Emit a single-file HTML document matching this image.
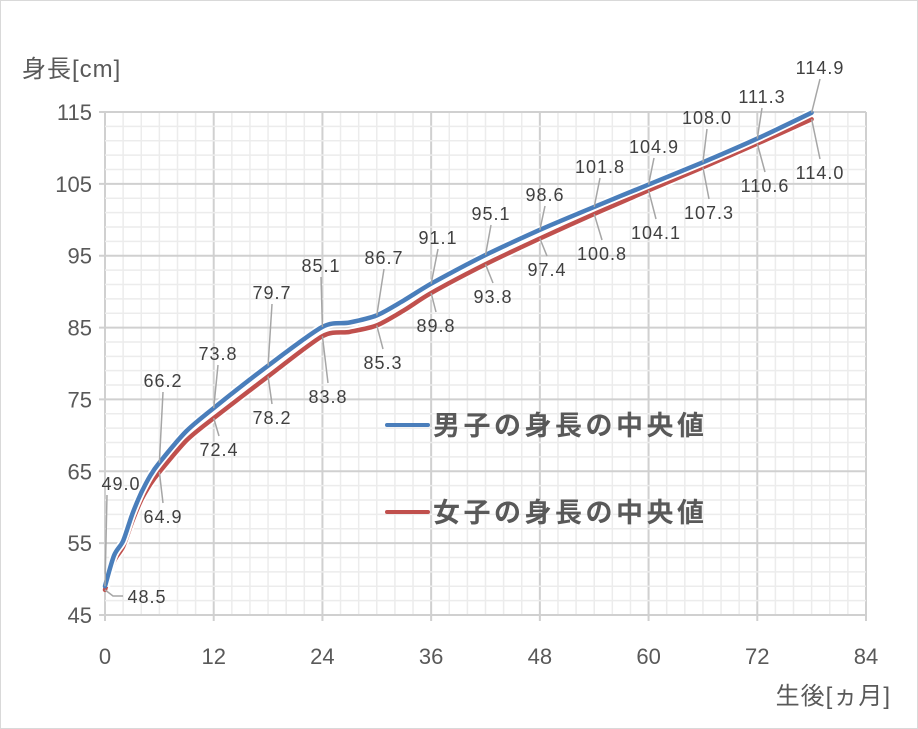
<!DOCTYPE html>
<html><head><meta charset="utf-8"><style>
body{margin:0;background:#fff}
svg{display:block;font-family:"Liberation Sans","Noto Sans CJK JP",sans-serif}
</style></head><body>
<svg id="c" width="918" height="729" viewBox="0 0 918 729" xmlns="http://www.w3.org/2000/svg">
<rect x="0.5" y="0.5" width="917" height="728" fill="#fff" stroke="#d9d9d9"/>
<g id="grid"></g>
<g id="lines"></g>
<g id="labels" font-size="18" fill="#404040" letter-spacing="1"></g>
<g fill="#595959">
<text x="22" y="77" font-size="24" letter-spacing="1">身長[cm]</text>
<text x="891" y="704" font-size="24" letter-spacing="1" text-anchor="end">生後[ヵ月]</text>
</g>
<g id="ticks" font-size="22" fill="#595959"></g>
<g font-size="27" font-weight="bold" fill="#595959" letter-spacing="3.5">
<line x1="387" y1="425" x2="428" y2="425" stroke="#4a7ebb" stroke-width="4" stroke-linecap="round"/>
<text x="433" y="435">男子の身長の中央値</text>
<line x1="387" y1="512" x2="428" y2="512" stroke="#c0504d" stroke-width="4" stroke-linecap="round"/>
<text x="433" y="522">女子の身長の中央値</text>
</g>
</svg>
<script>
const NS="http://www.w3.org/2000/svg";
const X=m=>105+m*(761/84), Y=v=>112+(115-v)*(503/70);
function el(p,t,a,txt){const e=document.createElementNS(NS,t);for(const k in a)e.setAttribute(k,a[k]);if(txt!=null)e.textContent=txt;document.getElementById(p).appendChild(e);return e;}
for(let m=0;m<=84;m+=2){const maj=m%12==0;el('grid','line',{x1:X(m),x2:X(m),y1:112,y2:maj?621:615,stroke:maj?'#d0d0d0':'#ececec','stroke-width':maj?2:1.5});}
for(let i=0;i<=35;i++){const v=45+i*2;const maj=(v-45)%10==0;el('grid','line',{x1:maj?99:105,x2:866,y1:Y(v),y2:Y(v),stroke:maj?'#d0d0d0':'#ececec','stroke-width':maj?2:1.5});}
for(let m=0;m<=84;m+=12)el('ticks','text',{x:X(m),y:664,'text-anchor':'middle'},m);
for(let v=45;v<=115;v+=10)el('ticks','text',{x:92,y:Y(v)+8,'text-anchor':'end'},v);
const boy=[[0,49.0],[1,53.3],[2,55.3],[3,59],[4,62],[5,64.4],[6,66.2],[9,70.6],[12,73.8],[18,79.7],[24,85.1],[27,85.7],[30,86.7],[33,88.8],[36,91.1],[42,95.1],[48,98.6],[54,101.8],[60,104.9],[66,108.0],[72,111.3],[78,114.9]];
const girl=[[0,48.5],[1,52.5],[2,54.5],[3,58],[4,61],[5,63.2],[6,64.9],[9,69.3],[12,72.4],[18,78.2],[24,83.8],[27,84.4],[30,85.3],[33,87.4],[36,89.8],[42,93.8],[48,97.4],[54,100.8],[60,104.1],[66,107.3],[72,110.6],[78,114.0]];
function path(d){const p=d.map(q=>[X(q[0]),Y(q[1])]);let s='M'+p[0][0]+' '+p[0][1];
for(let i=0;i<p.length-1;i++){const p0=p[Math.max(0,i-1)],p1=p[i],p2=p[i+1],p3=p[Math.min(p.length-1,i+2)];const t=0.2;
const c1=[p1[0]+(p2[0]-p0[0])*t/1.5,p1[1]+(p2[1]-p0[1])*t/1.5],c2=[p2[0]-(p3[0]-p1[0])*t/1.5,p2[1]-(p3[1]-p1[1])*t/1.5];
s+=` C${c1[0].toFixed(1)} ${c1[1].toFixed(1)} ${c2[0].toFixed(1)} ${c2[1].toFixed(1)} ${p2[0].toFixed(1)} ${p2[1].toFixed(1)}`;}return s;}
[[girl,'#c0504d'],[boy,'#4a7ebb']].forEach(([d,c])=>{
el('lines','path',{d:path(d),fill:'none',stroke:'#fff','stroke-width':8,'stroke-linejoin':'round'});
el('lines','path',{d:path(d),fill:'none',stroke:c,'stroke-width':4.5,'stroke-linejoin':'round','stroke-linecap':'round'});});
const bl=[[0,49.0,121,490],[6,66.2,163,387],[12,73.8,218,360],[18,79.7,272,299],[24,85.1,321,272],[30,86.7,384,264],[36,91.1,438,244],[42,95.1,491,220],[48,98.6,545,201],[54,101.8,600,173],[60,104.9,654,153],[66,108.0,707,124],[72,111.3,762,103],[78,114.9,820,74]];
const gl=[[0,48.5,147,603],[6,64.9,163,523],[12,72.4,219,456],[18,78.2,272,424],[24,83.8,328,403],[30,85.3,383,369],[36,89.8,436,332],[42,93.8,493,303],[48,97.4,547,276],[54,100.8,602,260],[60,104.1,656,239],[66,107.3,709,219],[72,110.6,765,192],[78,114.0,820,179]];
bl.forEach(([m,v,tx,ty])=>{el('labels','line',{x1:X(m),y1:Y(v),x2:tx-(m==0?14:0),y2:ty+5,stroke:'#a6a6a6','stroke-width':1.5});el('labels','text',{x:tx,y:ty,'text-anchor':'middle'},v.toFixed(1));});
gl.forEach(([m,v,tx,ty])=>{if(m==0){el('labels','path',{d:`M${X(0)} ${Y(v)} L${X(0)+8} ${ty-7} L${tx-24} ${ty-7}`,fill:'none',stroke:'#a6a6a6','stroke-width':1.5});}else el('labels','line',{x1:X(m),y1:Y(v),x2:tx,y2:ty-20,stroke:'#a6a6a6','stroke-width':1.5});el('labels','text',{x:tx,y:ty,'text-anchor':'middle'},v.toFixed(1));});
</script>
</body></html>
